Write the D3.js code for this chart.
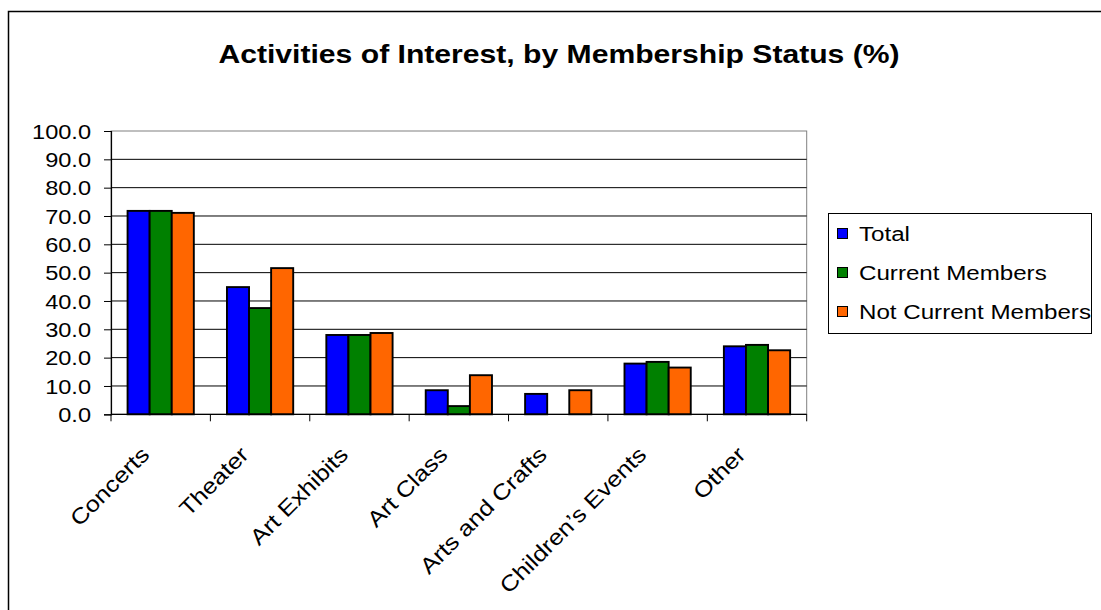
<!DOCTYPE html>
<html>
<head>
<meta charset="utf-8">
<script src="https://cdn.jsdelivr.net/npm/d3@7"></script>
<style>
  html, body { margin: 0; padding: 0; background: #fff; }
  svg { display: block; font-family: "Liberation Sans", Arial, sans-serif; }
</style>
</head>
<body>
<svg id="chart" width="1101" height="610"></svg>
<script>
// Activities of interest, percent of respondents by membership status
const categories = ["Concerts", "Theater", "Art Exhibits", "Art Class", "Arts and Crafts", "Children’s Events", "Other"];
const seriesNames = ["Total", "Current Members", "Not Current Members"];
const totalValues = [71.8, 44.9, 28.0, 8.5, 7.2, 17.9, 24.0];
const currentValues = [71.8, 37.5, 28.0, 2.9, 0.0, 18.5, 24.5];
const notCurrentValues = [71.1, 51.6, 28.7, 13.8, 8.5, 16.5, 22.6];
const yTicks = [0, 10, 20, 30, 40, 50, 60, 70, 80, 90, 100];
const seriesColors = ["#0000FF", "#008000", "#FF6600"];

const seriesValues = [totalValues, currentValues, notCurrentValues];
const rows = categories.map((c, i) => ({
  category: c,
  values: seriesNames.map((s, j) => ({ series: s, value: seriesValues[j][i], color: seriesColors[j] }))
}));

const svg = d3.select("#chart");
const plot = { left: 111, right: 806.7, top: 131, bottom: 414.3 };
const stretch = 1.15; // wide glyph rendering

// outer chart frame
svg.append("rect")
  .attr("x", 8.5).attr("y", 11.5)
  .attr("width", 1200).attr("height", 700)
  .attr("fill", "#fff").attr("stroke", "#000").attr("stroke-width", 1.5);

// title
svg.append("text")
  .attr("transform", `translate(559,63) scale(${stretch},1)`)
  .attr("text-anchor", "middle")
  .attr("font-size", 26.2)
  .attr("font-weight", "bold")
  .text("Activities of Interest, by Membership Status (%)");

const x = d3.scaleBand().domain(categories).range([plot.left, plot.right]).paddingInner(0).paddingOuter(0);
const x1 = d3.scaleBand().domain(seriesNames).range([0, x.bandwidth()]).paddingInner(0).paddingOuter(0.75);
const y = d3.scaleLinear().domain([0, 100]).range([plot.bottom, plot.top]);

// plot area border
svg.append("rect")
  .attr("x", plot.left).attr("y", plot.top)
  .attr("width", plot.right - plot.left).attr("height", plot.bottom - plot.top)
  .attr("fill", "none").attr("stroke", "#808080").attr("stroke-width", 1);

// horizontal gridlines
svg.append("g")
  .selectAll("line")
  .data(yTicks.filter(t => t > 0 && t < 100))
  .join("line")
  .attr("x1", plot.left).attr("x2", plot.right)
  .attr("y1", d => y(d)).attr("y2", d => y(d))
  .attr("stroke", "#000").attr("stroke-width", 1);

// bars
svg.append("g")
  .selectAll("g")
  .data(rows)
  .join("g")
  .attr("transform", d => `translate(${x(d.category)},0)`)
  .selectAll("rect")
  .data(d => d.values.filter(v => v.value > 0))
  .join("rect")
  .attr("x", d => x1(d.series))
  .attr("width", x1.bandwidth())
  .attr("y", d => y(d.value))
  .attr("height", d => y(0) - y(d.value))
  .attr("fill", d => d.color)
  .attr("stroke", "#000")
  .attr("stroke-width", 1.9);

// y axis
const yAxis = svg.append("g")
  .attr("transform", `translate(${plot.left},0)`)
  .call(d3.axisLeft(y).tickValues(yTicks).tickFormat(d3.format(".1f")).tickSize(7).tickPadding(0));
yAxis.select(".domain").attr("stroke", "#000").attr("stroke-width", 1.2);
yAxis.selectAll(".tick line").attr("stroke", "#000");
yAxis.selectAll(".tick text")
  .attr("font-size", 20.5)
  .attr("font-family", "Liberation Sans, Arial, sans-serif")
  .attr("fill", "#000")
  .attr("x", 0)
  .attr("dy", "0.35em")
  .attr("text-anchor", "end")
  .attr("transform", `translate(-20,0) scale(${stretch},1)`);

// x axis baseline and category separators
const xAxis = svg.append("g").attr("transform", `translate(0,${plot.bottom})`);
xAxis.append("line")
  .attr("x1", plot.left).attr("x2", plot.right)
  .attr("stroke", "#000").attr("stroke-width", 1.2);
const boundaries = categories.map(c => x(c)).concat([plot.right]);
xAxis.selectAll("line.sep")
  .data(boundaries)
  .join("line")
  .attr("class", "sep")
  .attr("x1", d => d).attr("x2", d => d)
  .attr("y1", 0).attr("y2", 7)
  .attr("stroke", "#000");

// rotated category labels
svg.append("g")
  .selectAll("text")
  .data(categories)
  .join("text")
  .attr("transform", d => `translate(${x(d) + x.bandwidth() / 2 - 10},456) rotate(-45) scale(${stretch},1)`)
  .attr("text-anchor", "end")
  .attr("font-size", 22)
  .text(d => d);

// legend
const legend = svg.append("g");
legend.append("rect")
  .attr("x", 828.5).attr("y", 213.5)
  .attr("width", 263).attr("height", 120)
  .attr("fill", "#fff").attr("stroke", "#000").attr("stroke-width", 1);
const items = legend.selectAll("g.item")
  .data(seriesNames)
  .join("g")
  .attr("class", "item")
  .attr("transform", (d, i) => `translate(0,${234 + i * 39})`);
items.append("rect")
  .attr("x", 837.5).attr("y", -5.5)
  .attr("width", 10).attr("height", 10)
  .attr("fill", (d, i) => seriesColors[i])
  .attr("stroke", "#000").attr("stroke-width", 1);
items.append("text")
  .attr("transform", `translate(859,7) scale(${stretch},1)`)
  .attr("font-size", 21)
  .text(d => d);
</script>
</body>
</html>
